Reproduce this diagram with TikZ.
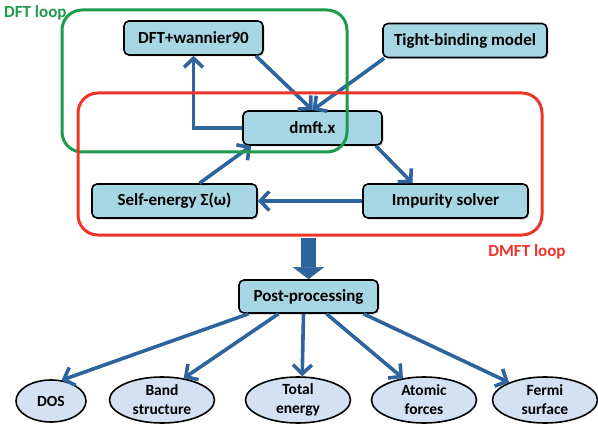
\documentclass[tikz,border=0pt]{standalone}
\usepackage{fontspec}
\setmainfont{Carlito}
\usetikzlibrary{arrows.meta,shapes.geometric,shadows}
\definecolor{boxblue}{RGB}{166,214,228}
\definecolor{ellblue}{RGB}{211,225,242}
\definecolor{linkblue}{RGB}{46,100,158}
\definecolor{dftgreen}{RGB}{30,154,75}
\definecolor{dmftred}{RGB}{238,52,40}
\tikzset{
  box/.style={draw, line width=1.6pt, rounded corners=5pt, fill=boxblue,
    minimum height=34pt, inner sep=0pt, font=\fontsize{17}{20}\selectfont\bfseries,
    drop shadow={shadow xshift=1.5pt, shadow yshift=-1.5pt, opacity=.35}},
  result/.style={ellipse, draw, line width=1.6pt, fill=ellblue, inner sep=0pt,
    minimum width=105pt, minimum height=46pt, align=center,
    font=\fontsize{15.5}{19}\selectfont\bfseries},
  link/.style={draw=linkblue, line width=3.6pt, -{Straight Barb[length=9pt,width=19pt]}},
  loopbox/.style={draw=#1, line width=3pt, rounded corners=20pt, inner sep=0pt},
  looplabel/.style={text=#1, font=\fontsize{17}{20}\selectfont\bfseries, inner sep=0pt}
}
\begin{document}
\begin{tikzpicture}[x=1pt, y=-1pt]
\useasboundingbox (0,0) rectangle (598,428);
% boxes
\node[box, minimum width=139pt] (dft) at (193.5,38) {DFT+wannier90};
\node[box, minimum width=164pt] (tb) at (465,40.5) {Tight-binding model};
\node[box, minimum width=139pt] (dmft) at (312.5,128) {dmft.x};
\node[box, minimum width=165pt] (self) at (174.5,201) {Self-energy Σ(ω)};
\node[box, minimum width=165pt] (imp) at (445.5,201) {Impurity solver};
\node[box, minimum width=139pt, minimum height=33pt] (post) at (308.5,296.5) {Post-processing};
% results
\node[result, minimum width=70pt, minimum height=42pt] (dos) at (51,401) {DOS};
\node[result] (band) at (162,400) {Band\\structure};
\node[result] (total) at (298,400) {Total\\energy};
\node[result] (forces) at (424,400) {Atomic\\forces};
\node[result] (fermi) at (545,400) {Fermi\\surface};
% loop arrows
\draw[link] ([xshift=-8pt]dft.south east) -- (dmft.north);
\draw[link] ([xshift=2pt]tb.south west) -- (dmft.north);
\draw[link] (dmft.west) -| (dft.south);
\draw[link] ([xshift=-7pt]dmft.south east) -- ([xshift=-33pt]imp.north);
\draw[link] (imp.west) -- (self.east);
\draw[link] ([xshift=25pt]self.north) -- ([xshift=9pt]dmft.south west);
% loops
\node[loopbox=dftgreen, minimum width=285pt, minimum height=142pt] (dftloop) at (204.5,81) {};
\node[loopbox=dmftred, minimum width=464pt, minimum height=142pt] (dmftloop) at (310,164) {};
\node[looplabel=dftgreen, anchor=west] (dftlab) at (4,13) {DFT loop};
\node[looplabel=dmftred] (dmftlab) at (527,252) {DMFT loop};
% post-processing
\draw[draw=linkblue, line width=15pt, -{Triangle[length=12pt,width=31pt,line width=0.5pt]}]
  (dmftloop.south -| post.north) ++(0,1.5) -- (post.north);
\draw[link] ([xshift=-60pt]post.south) -- (dos.63);
\draw[link] ([xshift=-30pt]post.south) -- (band.45);
\draw[link] ([xshift=-5pt]post.south) -- (total.80);
\draw[link] ([xshift=18pt]post.south) -- (forces.134);
\draw[link] ([xshift=55pt]post.south) -- (fermi.154);
\end{tikzpicture}
\end{document}
